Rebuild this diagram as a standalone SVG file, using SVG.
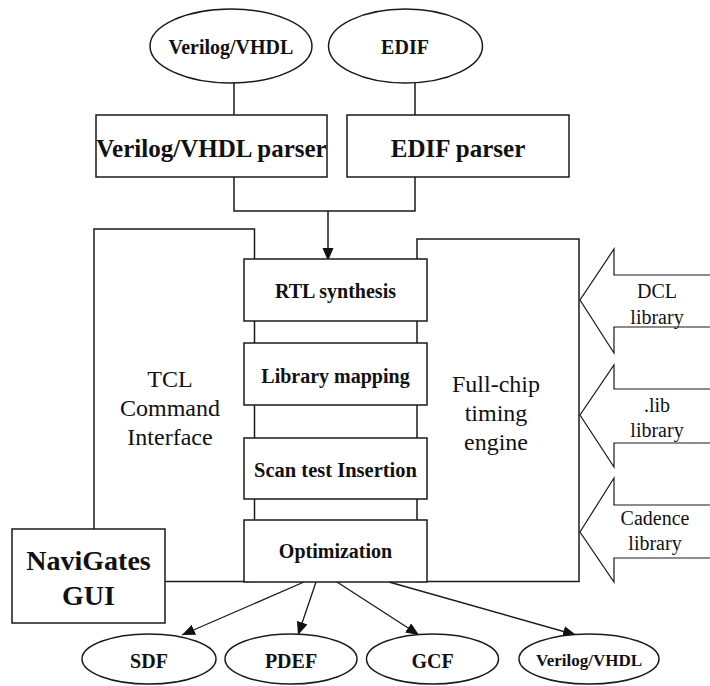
<svg xmlns="http://www.w3.org/2000/svg" width="710" height="686" viewBox="0 0 710 686">
  <style>
    .box { fill: #fff; stroke: #1a1a1a; stroke-width: 1.5; }
    .frame { fill: none; stroke: #1a1a1a; stroke-width: 1.5; }
    .wire { fill: none; stroke: #1a1a1a; stroke-width: 1.5; }
    .out { fill: none; stroke: #1a1a1a; stroke-width: 1.3; }
    .blk { fill: #fff; stroke: #1a1a1a; stroke-width: 1.2; stroke-linejoin: miter; }
    .b { font-family: "Liberation Serif", "Times New Roman", serif; font-weight: bold; text-anchor: middle; fill: #111; }
    .r { font-family: "Liberation Serif", "Times New Roman", "DejaVu Serif", serif; font-weight: normal; font-style: normal; text-anchor: middle; fill: #111; }
  </style>
  <defs>
    <marker id="head" markerUnits="userSpaceOnUse" markerWidth="14" markerHeight="12" refX="13" refY="5.5" orient="auto">
      <path d="M0,0 L13,5.5 L0,11 z" fill="#111"/>
    </marker>
  </defs>

  <rect width="710" height="686" fill="#fff"/>

  <!-- enclosing frames: TCL command interface and full-chip timing engine -->
  <g id="tcl-interface">
    <rect class="frame" x="94" y="229" width="160.5" height="352.5"/>
    <text class="r" x="170" y="387" font-size="24">TCL</text>
    <text class="r" x="170" y="416" font-size="24">Command</text>
    <text class="r" x="170" y="445" font-size="24">Interface</text>
  </g>
  <g id="timing-engine">
    <rect class="frame" x="417" y="239" width="162" height="342.5"/>
    <text class="r" x="496" y="392" font-size="24">Full-chip</text>
    <text class="r" x="496" y="421" font-size="24">timing</text>
    <text class="r" x="496" y="450" font-size="24">engine</text>
  </g>

  <!-- connectors -->
  <g id="connectors">
    <path class="wire" d="M234,83 V115 M415,83 V115"/>
    <path class="wire" d="M234,177 V211 H415 V177"/>
    <path class="wire" d="M328,211 V261" marker-end="url(#head)"/>
    <path class="out" d="M304,582 L182,635" marker-end="url(#head)"/>
    <path class="out" d="M316,582 L298,635" marker-end="url(#head)"/>
    <path class="out" d="M337,582 L419,635" marker-end="url(#head)"/>
    <path class="out" d="M389,582 L576,635" marker-end="url(#head)"/>
  </g>

  <!-- inputs -->
  <g id="in-verilog">
    <ellipse class="box" cx="231" cy="46" rx="81" ry="37"/>
    <text class="b" x="231" y="54" font-size="20">Verilog/VHDL</text>
  </g>
  <g id="in-edif">
    <ellipse class="box" cx="405.5" cy="46" rx="77" ry="37"/>
    <text class="b" x="405" y="54" font-size="20">EDIF</text>
  </g>

  <!-- parsers -->
  <g id="verilog-parser">
    <rect class="box" x="96" y="115" width="231" height="62"/>
    <text class="b" x="211.5" y="157" font-size="25">Verilog/VHDL parser</text>
  </g>
  <g id="edif-parser">
    <rect class="box" x="347" y="115" width="222" height="62"/>
    <text class="b" x="458" y="157" font-size="25">EDIF parser</text>
  </g>

  <!-- synthesis flow -->
  <g id="rtl-synthesis">
    <rect class="box" x="244" y="259" width="183" height="62"/>
    <text class="b" x="335.5" y="298" font-size="20">RTL synthesis</text>
  </g>
  <g id="library-mapping">
    <rect class="box" x="244" y="343" width="183" height="62"/>
    <text class="b" x="335.5" y="383" font-size="20">Library mapping</text>
  </g>
  <g id="scan-insertion">
    <rect class="box" x="244" y="438" width="183" height="61"/>
    <text class="b" x="335.5" y="477" font-size="20.5">Scan test Insertion</text>
  </g>
  <g id="optimization">
    <rect class="box" x="244" y="520" width="183" height="62"/>
    <text class="b" x="335.5" y="558" font-size="20">Optimization</text>
  </g>

  <g id="navigates-gui">
    <rect class="box" x="12" y="529" width="153" height="94"/>
    <text class="b" x="88.5" y="570" font-size="28">NaviGates</text>
    <text class="b" x="88.5" y="605" font-size="28">GUI</text>
  </g>

  <!-- library inputs -->
  <g id="lib-dcl">
    <polygon class="blk" points="711,275 614,275 614,249 580,300 614,353 614,327 711,327"/>
    <text class="r" x="657" y="298" font-size="20">DCL</text>
    <text class="r" x="657" y="324" font-size="20">library</text>
  </g>
  <g id="lib-dotlib">
    <polygon class="blk" points="711,389 614,389 614,365 580,415 614,467 614,443 711,443"/>
    <text class="r" x="657" y="412" font-size="20">.lib</text>
    <text class="r" x="657" y="437" font-size="20">library</text>
  </g>
  <g id="lib-cadence">
    <polygon class="blk" points="711,505 614,505 614,478 580,532 614,582 614,558 711,558"/>
    <text class="r" x="655" y="525" font-size="20">Cadence</text>
    <text class="r" x="655" y="550" font-size="20">library</text>
  </g>

  <!-- outputs -->
  <g id="out-sdf">
    <ellipse class="box" cx="149" cy="659" rx="67" ry="25"/>
    <text class="b" x="149" y="668" font-size="20">SDF</text>
  </g>
  <g id="out-pdef">
    <ellipse class="box" cx="291" cy="659" rx="66" ry="25"/>
    <text class="b" x="291" y="668" font-size="20">PDEF</text>
  </g>
  <g id="out-gcf">
    <ellipse class="box" cx="432.5" cy="659" rx="66" ry="25"/>
    <text class="b" x="432.5" y="668" font-size="20">GCF</text>
  </g>
  <g id="out-verilog">
    <ellipse class="box" cx="589" cy="659" rx="70" ry="25"/>
    <text class="b" x="589" y="666" font-size="17">Verilog/VHDL</text>
  </g>
</svg>
